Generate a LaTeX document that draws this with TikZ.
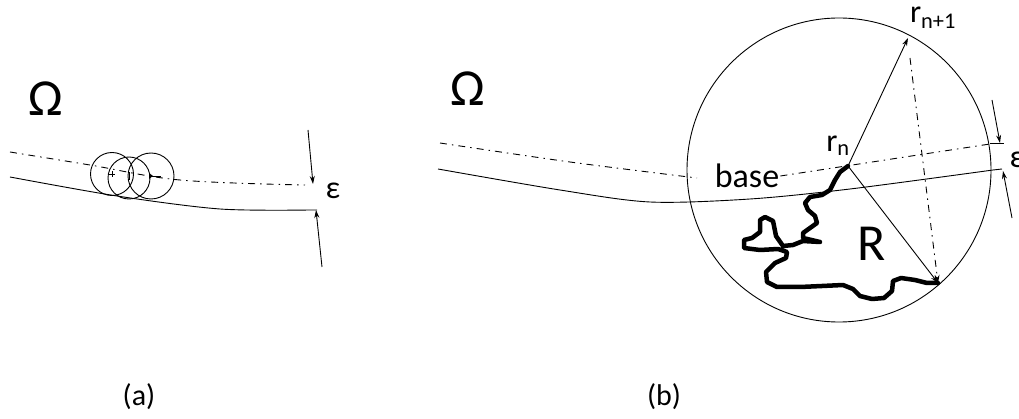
\documentclass[tikz,border=0pt]{standalone}
\usepackage{fontspec}
\setmainfont{Carlito}
\usetikzlibrary{arrows.meta}
\begin{document}
\begin{tikzpicture}[x=1pt,y=-1pt,
  thin line/.style={line width=0.9pt},
  dashdot line/.style={line width=0.9pt, dash pattern=on 7pt off 5pt on 1.5pt off 5pt},
  thinarrow/.style={line width=0.9pt, -{Stealth[length=8pt,width=5pt]}},
  walk/.style={line width=4.5pt, line join=round, line cap=round},
  lbl/.style={inner sep=0pt, text=black}]
\useasboundingbox (0,0) rectangle (1019,419);
\fill[white] (0,0) rectangle (1019,419);

% ---------- (a) ----------
\node[lbl, font=\fontsize{52}{52}\selectfont] (omegaA) at (46,99) {Ω};
\coordinate (aD0) at (10,152);
\coordinate (aD1) at (305,185);
\draw[dashdot line] plot[smooth, tension=0.6] coordinates {(aD0) (90,165) (180,180) (aD1)};
\coordinate (aS0) at (10,177);
\coordinate (aS1) at (317,210);
\draw[thin line] plot[smooth, tension=0.5] coordinates {(aS0) (117,196) (220,209) (310,210)} -- (aS1);
\node[draw, circle, thin line, minimum size=43pt, inner sep=0pt] (c1) at (112,174) {};
\node[draw, circle, thin line, minimum size=42pt, inner sep=0pt] (c2) at (129,178) {};
\node[draw, circle, thin line, minimum size=46pt, inner sep=0pt] (c3) at (151,176) {};
\draw[thin line] (c1.center) ++(-3,0) -- ++(6,0);
\draw[thin line] (c1.center) ++(0,-3) -- ++(0,6);
\draw[thin line] (c2.center) ++(0,-6) -- ++(0,8);
\draw[thin line] (c3.center) -- ++(10,0);
\fill (c3.center) ++(2,0) -- ++(-4,-3) -- ++(0,6) -- cycle;
\coordinate (aUpT) at (308,130);
\coordinate (aUpH) at (313,184);
\draw[thinarrow] (aUpT) -- (aUpH);
\coordinate (aLoT) at (322,267);
\coordinate (aLoH) at (316,210);
\draw[thinarrow] (aLoT) -- (aLoH);
\node[lbl, font=\fontsize{32}{32}\selectfont] (epsA) at (333,191) {ε};
\node[lbl, font=\fontsize{30}{30}\selectfont] (labA) at (139,397) {(a)};

% ---------- (b) ----------
\node[lbl, font=\fontsize{52}{52}\selectfont] (omegaB) at (468,89) {Ω};
\node[draw, circle, thin line, minimum size=304pt, inner sep=0pt] (big) at (839,170) {};
\node[lbl, font=\fontsize{34}{34}\selectfont, fill=white, inner sep=1pt] (base) at (747,176) {base};
\coordinate (bD0) at (440,143);
\coordinate (bD1) at (697,178);
\coordinate (bD2) at (990,144);
\draw[dashdot line] plot[smooth, tension=0.5] coordinates {(bD0) (570,162) (bD1)};
\draw[dashdot line] (base.east) -- (bD2);
\coordinate (bS0) at (438,169);
\coordinate (bS1) at (1002,169);
\draw[thin line] plot[smooth, tension=0.5] coordinates {(bS0) (560,190) (650,202) (750,199) (850,189) (993,170)} -- (bS1);
\coordinate (rn) at (848,166);
\coordinate (rn1) at (908,38);
\coordinate (rend) at (938,283);
\draw[thinarrow] (rn) -- (rn1);
\draw[thinarrow] (rn) -- (rend);
\coordinate (vtop) at (910,58);
\draw[dashdot line, -{Stealth[length=8pt,width=5pt]}] (vtop) -- (rend);
\node[lbl, font=\fontsize{32}{32}\selectfont] (lrn) at (838,146) {r\textsubscript{n}};
\node[lbl, font=\fontsize{32}{32}\selectfont] (lrn1) at (933,18) {r\textsubscript{n+1}};
\node[lbl, font=\fontsize{52}{52}\selectfont] (R) at (872,244) {R};
\draw[walk] (rn) -- (840,172) -- (835,180) -- (830,190) -- (822,195) -- (810,197)
  -- (805,203) -- (808,210) -- (815,216) -- (817,223) -- (810,228) -- (803,233)
  -- (803,238) -- (820,242) -- (803,241) -- (793,245) -- (783,246)
  -- (776,236) -- (773,221) -- (765,217) -- (760,220) -- (760,232) -- (752,238)
  -- (744,240) -- (744,248) -- (760,250) -- (778,249) -- (787,252)
  -- (786,258) -- (775,263) -- (766,272) -- (767,282) -- (777,287) -- (800,287)
  -- (822,286) -- (843,285) -- (853,289) -- (860,296) -- (872,299) -- (884,298)
  -- (892,291) -- (893,281) -- (901,278) -- (915,280) -- (927,283) -- (rend);
\coordinate (bUpT) at (992,100);
\coordinate (bUpH) at (1000,143);
\draw[thinarrow] (bUpT) -- (bUpH);
\draw[thin line] (990,143) -- (1004,143);
\coordinate (bLoT) at (1012,218);
\coordinate (bLoH) at (1003,171);
\draw[thinarrow] (bLoT) -- (bLoH);
\node[lbl, font=\fontsize{32}{32}\selectfont] (epsB) at (1017,160) {ε};
\node[lbl, font=\fontsize{30}{30}\selectfont] (labB) at (664,397) {(b)};
\end{tikzpicture}
\end{document}
